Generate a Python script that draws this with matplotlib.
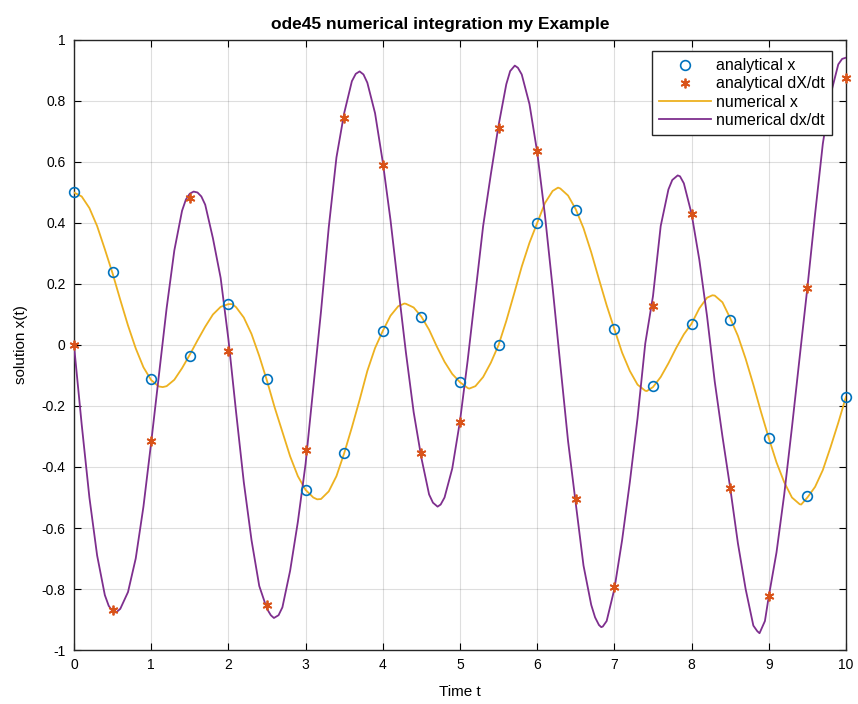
import numpy as np
import matplotlib
matplotlib.use('Agg')
from matplotlib import pyplot as plt

plt.rcParams['font.family'] = ['Liberation Sans', 'DejaVu Sans']

# analytical samples, every 0.5 s
t_an = [0.0, 0.5, 1.0, 1.5, 2.0, 2.5, 3.0, 3.5, 4.0, 4.5, 5.0,
        5.5, 6.0, 6.5, 7.0, 7.5, 8.0, 8.5, 9.0, 9.5, 10.0]
x_an = [0.50, 0.24, -0.11, -0.035, 0.134, -0.11, -0.476, -0.355, 0.046, 0.092, -0.12,
        0.0, 0.40, 0.444, 0.052, -0.136, 0.068, 0.083, -0.305, -0.496, -0.17]
dx_an = [0.0, -0.87, -0.315, 0.483, -0.02, -0.853, -0.345, 0.744, 0.59, -0.355, -0.252,
         0.713, 0.636, -0.505, -0.795, 0.128, 0.43, -0.468, -0.824, 0.188, 0.877]

# numerical x
t_x = [0.0, 0.1, 0.2, 0.3, 0.4, 0.5, 0.6, 0.7, 0.8, 0.9,
       1.0, 1.1, 1.15, 1.2, 1.3, 1.4, 1.5, 1.6, 1.7, 1.8, 1.9,
       2.0, 2.05, 2.1, 2.2, 2.3, 2.4, 2.5, 2.6, 2.7, 2.8, 2.9,
       3.0, 3.1, 3.15, 3.2, 3.3, 3.4, 3.5, 3.6, 3.7, 3.8, 3.9,
       4.0, 4.1, 4.2, 4.28, 4.3, 4.4, 4.5, 4.6, 4.7, 4.8, 4.9,
       5.0, 5.1, 5.12, 5.2, 5.3, 5.4, 5.5, 5.6, 5.7, 5.8, 5.9,
       6.0, 6.1, 6.2, 6.27, 6.3, 6.4, 6.5, 6.6, 6.7, 6.8, 6.9,
       7.0, 7.1, 7.2, 7.3, 7.4, 7.42, 7.5, 7.6, 7.7, 7.8, 7.9,
       8.0, 8.1, 8.2, 8.27, 8.3, 8.4, 8.5, 8.6, 8.7, 8.8, 8.9,
       9.0, 9.1, 9.2, 9.3, 9.4, 9.42, 9.5, 9.6, 9.7, 9.8, 9.9, 10.0]
x_num = [0.50, 0.487, 0.449, 0.39, 0.314, 0.235, 0.148, 0.064, -0.011, -0.073,
         -0.115, -0.136, -0.138, -0.135, -0.114, -0.076, -0.032, 0.015, 0.06, 0.10, 0.125,
         0.134, 0.134, 0.124, 0.09, 0.036, -0.036, -0.117, -0.205, -0.285, -0.365, -0.43,
         -0.475, -0.50, -0.506, -0.505, -0.48, -0.43, -0.355, -0.27, -0.18, -0.085, -0.01,
         0.046, 0.096, 0.127, 0.136, 0.135, 0.123, 0.093, 0.05, -0.005, -0.055, -0.095,
         -0.122, -0.141, -0.143, -0.135, -0.105, -0.058, 0.0, 0.079, 0.167, 0.257, 0.335,
         0.40, 0.465, 0.505, 0.516, 0.513, 0.49, 0.445, 0.383, 0.304, 0.216, 0.13,
         0.052, -0.025, -0.085, -0.13, -0.15, -0.151, -0.138, -0.105, -0.06, -0.01, 0.035,
         0.07, 0.12, 0.155, 0.163, 0.162, 0.14, 0.088, 0.03, -0.045, -0.13, -0.22,
         -0.305, -0.385, -0.45, -0.50, -0.522, -0.523, -0.50, -0.465, -0.41, -0.335, -0.255, -0.17]

# numerical dx/dt
t_dx = [0.0, 0.1, 0.2, 0.3, 0.4, 0.45, 0.5, 0.52, 0.55, 0.6, 0.7, 0.8, 0.9,
        1.0, 1.1, 1.2, 1.3, 1.4, 1.45, 1.5, 1.55, 1.6, 1.65, 1.7, 1.8, 1.9,
        2.0, 2.1, 2.2, 2.3, 2.4, 2.5, 2.55, 2.59, 2.65, 2.7, 2.8, 2.9,
        3.0, 3.1, 3.2, 3.3, 3.4, 3.5, 3.6, 3.65, 3.7, 3.75, 3.8, 3.9,
        4.0, 4.1, 4.2, 4.3, 4.4, 4.5, 4.6, 4.65, 4.71, 4.75, 4.8, 4.9,
        5.0, 5.1, 5.2, 5.3, 5.4, 5.5, 5.6, 5.65, 5.71, 5.75, 5.8, 5.9,
        6.0, 6.1, 6.2, 6.3, 6.4, 6.5, 6.6, 6.7, 6.75, 6.8, 6.83, 6.85, 6.9,
        7.0, 7.1, 7.2, 7.3, 7.4, 7.5, 7.6, 7.7, 7.75, 7.82, 7.85, 7.9,
        8.0, 8.1, 8.2, 8.3, 8.4, 8.5, 8.6, 8.7, 8.8, 8.85, 8.88, 8.95,
        9.0, 9.1, 9.2, 9.3, 9.4, 9.5, 9.6, 9.7, 9.8, 9.9, 9.95, 10.0]
dx_num = [0.0, -0.26, -0.50, -0.69, -0.82, -0.855, -0.873, -0.877, -0.876, -0.865, -0.81, -0.70, -0.53,
          -0.32, -0.10, 0.12, 0.31, 0.44, 0.477, 0.496, 0.503, 0.500, 0.487, 0.46, 0.35, 0.22,
          0.02, -0.22, -0.45, -0.64, -0.79, -0.865, -0.886, -0.895, -0.886, -0.86, -0.74, -0.58,
          -0.39, -0.14, 0.11, 0.385, 0.615, 0.76, 0.865, 0.889, 0.897, 0.887, 0.86, 0.76,
          0.60, 0.41, 0.19, -0.025, -0.22, -0.37, -0.49, -0.517, -0.53, -0.523, -0.50, -0.405,
          -0.25, -0.05, 0.17, 0.39, 0.56, 0.72, 0.855, 0.898, 0.916, 0.909, 0.887, 0.79,
          0.633, 0.427, 0.188, -0.065, -0.315, -0.52, -0.723, -0.852, -0.893, -0.918, -0.925, -0.923, -0.905,
          -0.80, -0.64, -0.45, -0.24, 0.005, 0.16, 0.39, 0.51, 0.541, 0.556, 0.553, 0.53,
          0.43, 0.28, 0.095, -0.12, -0.30, -0.468, -0.65, -0.80, -0.92, -0.938, -0.945, -0.905,
          -0.824, -0.68, -0.49, -0.27, -0.04, 0.188, 0.43, 0.66, 0.82, 0.92, 0.938, 0.942]

x_ticks = list(range(11))
y_ticks = [-1, -0.8, -0.6, -0.4, -0.2, 0, 0.2, 0.4, 0.6, 0.8, 1]
y_tick_labels = ['-1', '-0.8', '-0.6', '-0.4', '-0.2', '0', '0.2', '0.4', '0.6', '0.8', '1']

blue = (0, 0.447, 0.741)
orange = (0.85, 0.325, 0.098)
yellow = (0.929, 0.694, 0.125)
purple = (0.494, 0.184, 0.556)

fig = plt.figure(figsize=(8.58, 7.04), dpi=100)
ax = fig.add_axes([0.0862, 0.0767, 0.8998, 0.8665])

ax.plot(t_an, x_an, 'o', mfc='none', mec=blue, ms=7, mew=1.2, label='analytical x', zorder=4, clip_on=False)
ax.plot(t_an, dx_an, ls='none', marker=(6, 2, 0), mec=orange, ms=7, mew=1.3, label='analytical dX/dt', zorder=4, clip_on=False)
ax.plot(t_x, x_num, '-', color=yellow, lw=1.3, label='numerical x', zorder=3)
ax.plot(t_dx, dx_num, '-', color=purple, lw=1.3, label='numerical dx/dt', zorder=3)

ax.set_xlim(0, 10)
ax.set_ylim(-1, 1)
ax.set_xticks(x_ticks)
ax.set_yticks(y_ticks)
ax.set_yticklabels(y_tick_labels)
ax.grid(True, color=(0.15, 0.15, 0.15), alpha=0.15, lw=0.8)
ax.tick_params(direction='in', top=True, right=True, length=5, width=0.8, labelsize=10, pad=6)
for s in ax.spines.values():
    s.set_linewidth(1.0)
    s.set_color('0.15')

ax.set_title('ode45 numerical integration my Example', fontsize=12.5, fontweight='bold', pad=8, x=0.474)
ax.set_xlabel('Time t', fontsize=11, labelpad=9)
ax.set_ylabel('solution x(t)', fontsize=11, labelpad=10)

leg = ax.legend(loc='upper right', bbox_to_anchor=(0.982, 0.982), fontsize=11.5, fancybox=False,
                edgecolor='0.15', framealpha=1, borderpad=0.45, labelspacing=0.2,
                handlelength=3.25, handletextpad=0.3, borderaxespad=0)
leg.get_frame().set_linewidth(1.0)

fig.savefig('out.png', dpi=100)
